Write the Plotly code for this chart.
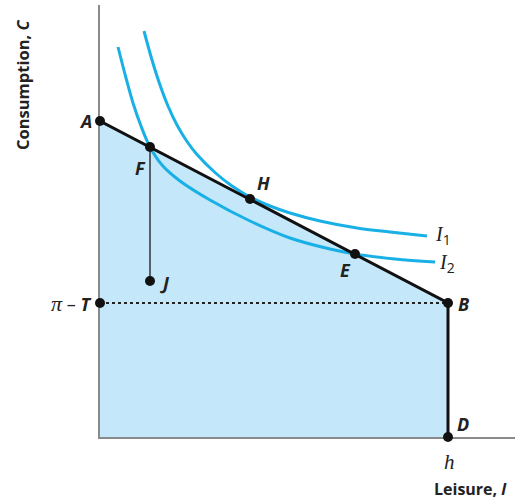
import plotly.graph_objects as go

# named points (leisure, consumption)
point_names = ["A", "F", "H", "E", "B", "D", "J", "T"]
point_x = [0, 50, 150, 255, 348, 348, 50, 0]
point_y = [316, 290, 238, 183, 134, 0, 156, 134]

# indifference curves
i1_x = [44, 52, 60, 68, 77, 87, 97, 115, 132, 150, 170, 190, 220, 257, 290, 327]
i1_y = [406, 377, 352, 331, 312, 295.5, 282.5, 264.5, 251, 240, 231, 224, 216, 209, 205, 201]
i2_x = [18, 26, 33, 41, 50, 62, 80, 110, 150, 190, 230, 255, 295, 335]
i2_y = [390, 359, 334, 311, 290, 272, 256, 237, 216, 199, 188, 183, 178, 175]

X_MAX, Y_MAX = 415, 432
P = dict(zip(point_names, zip(point_x, point_y)))

BLUE = "#19b0e6"
FILL = "#c4e8fa"

fig = go.Figure()

# opportunity set
fig.add_trace(go.Scatter(
    x=[0, P["A"][0], P["B"][0], P["D"][0]],
    y=[0, P["A"][1], P["B"][1], P["D"][1]],
    fill="toself", fillcolor=FILL, line=dict(width=0), mode="lines", hoverinfo="skip"))

# dotted line pi - T to B
fig.add_trace(go.Scatter(x=[P["T"][0], P["B"][0]], y=[P["T"][1], P["B"][1]],
                         mode="lines", line=dict(color="#222", width=2, dash="dot")))
# F to J
fig.add_trace(go.Scatter(x=[P["F"][0], P["J"][0]], y=[P["F"][1], P["J"][1]],
                         mode="lines", line=dict(color="#333", width=1.5)))

# indifference curves
fig.add_trace(go.Scatter(x=i1_x, y=i1_y, mode="lines", line=dict(color=BLUE, width=3, shape="spline")))
fig.add_trace(go.Scatter(x=i2_x, y=i2_y, mode="lines", line=dict(color=BLUE, width=3, shape="spline")))

# budget constraint A-B-D
fig.add_trace(go.Scatter(x=[P["A"][0], P["B"][0], P["D"][0]], y=[P["A"][1], P["B"][1], P["D"][1]],
                         mode="lines", line=dict(color="#111", width=3)))

fig.add_trace(go.Scatter(x=point_x, y=point_y, mode="markers",
                         marker=dict(color="#111", size=10), cliponaxis=False))


def note(x, y, text, xanchor="center", **kw):
    # positions given in data units, placed on paper so they can sit outside the axes
    fig.add_annotation(x=x / X_MAX, y=y / Y_MAX, xref="paper", yref="paper",
                       xanchor=xanchor, yanchor="middle", text=text, showarrow=False, **kw)


lab = dict(family="Open Sans", size=18, color="#222")
offsets = {"A": (-6, 0, "right"), "F": (-10, -21, "center"), "H": (13, 16, "center"),
           "E": (-10, -16, "center"), "B": (8, -1, "left"), "D": (7, 13, "left"),
           "J": (8, -2, "left")}
for n, (dx, dy, xa) in offsets.items():
    note(P[n][0] + dx, P[n][1] + dy, f"<b><i>{n}</i></b>", xanchor=xa, font=lab)

serif = "font-family:Liberation Serif"
note(333, 201, f'<span style="{serif}"><i>I</i></span><sub>1</sub>', xanchor="left",
     font=dict(family="Open Sans", size=20, color="#222"))
note(337, 173, f'<span style="{serif}"><i>I</i></span><sub>2</sub>', xanchor="left",
     font=dict(family="Open Sans", size=20, color="#222"))
note(-7, 134, f'<span style="{serif};font-size:22px"><i>π</i></span> – <b><i>T</i></b>', xanchor="right",
     font=dict(family="Open Sans", size=18, color="#222"))
note(349, -25, "<i>h</i>", font=dict(family="Liberation Serif", size=21, color="#222"))
note(370, -52, "<b>Leisure, <i>l</i></b>", font=dict(family="Open Sans", size=16, color="#222"))
note(-78, 352, "<b>Consumption, <i>C</i></b>", textangle=-90,
     font=dict(family="Open Sans", size=16.5, color="#222"))

fig.update_xaxes(range=[0, X_MAX], showline=True, linecolor="#8a8a8a", linewidth=1.5,
                 showgrid=False, zeroline=False, showticklabels=False, ticks="",
                 layer="below traces")
fig.update_yaxes(range=[0, Y_MAX], showline=True, linecolor="#8a8a8a", linewidth=1.5,
                 showgrid=False, zeroline=False, showticklabels=False, ticks="",
                 layer="below traces")
fig.update_layout(width=521, height=501, showlegend=False,
                  plot_bgcolor="white", paper_bgcolor="white",
                  margin=dict(l=100, r=6, t=5, b=64))

fig.write_html("out.html", config={"displayModeBar": False},
               post_script="document.body.style.margin='0';")
